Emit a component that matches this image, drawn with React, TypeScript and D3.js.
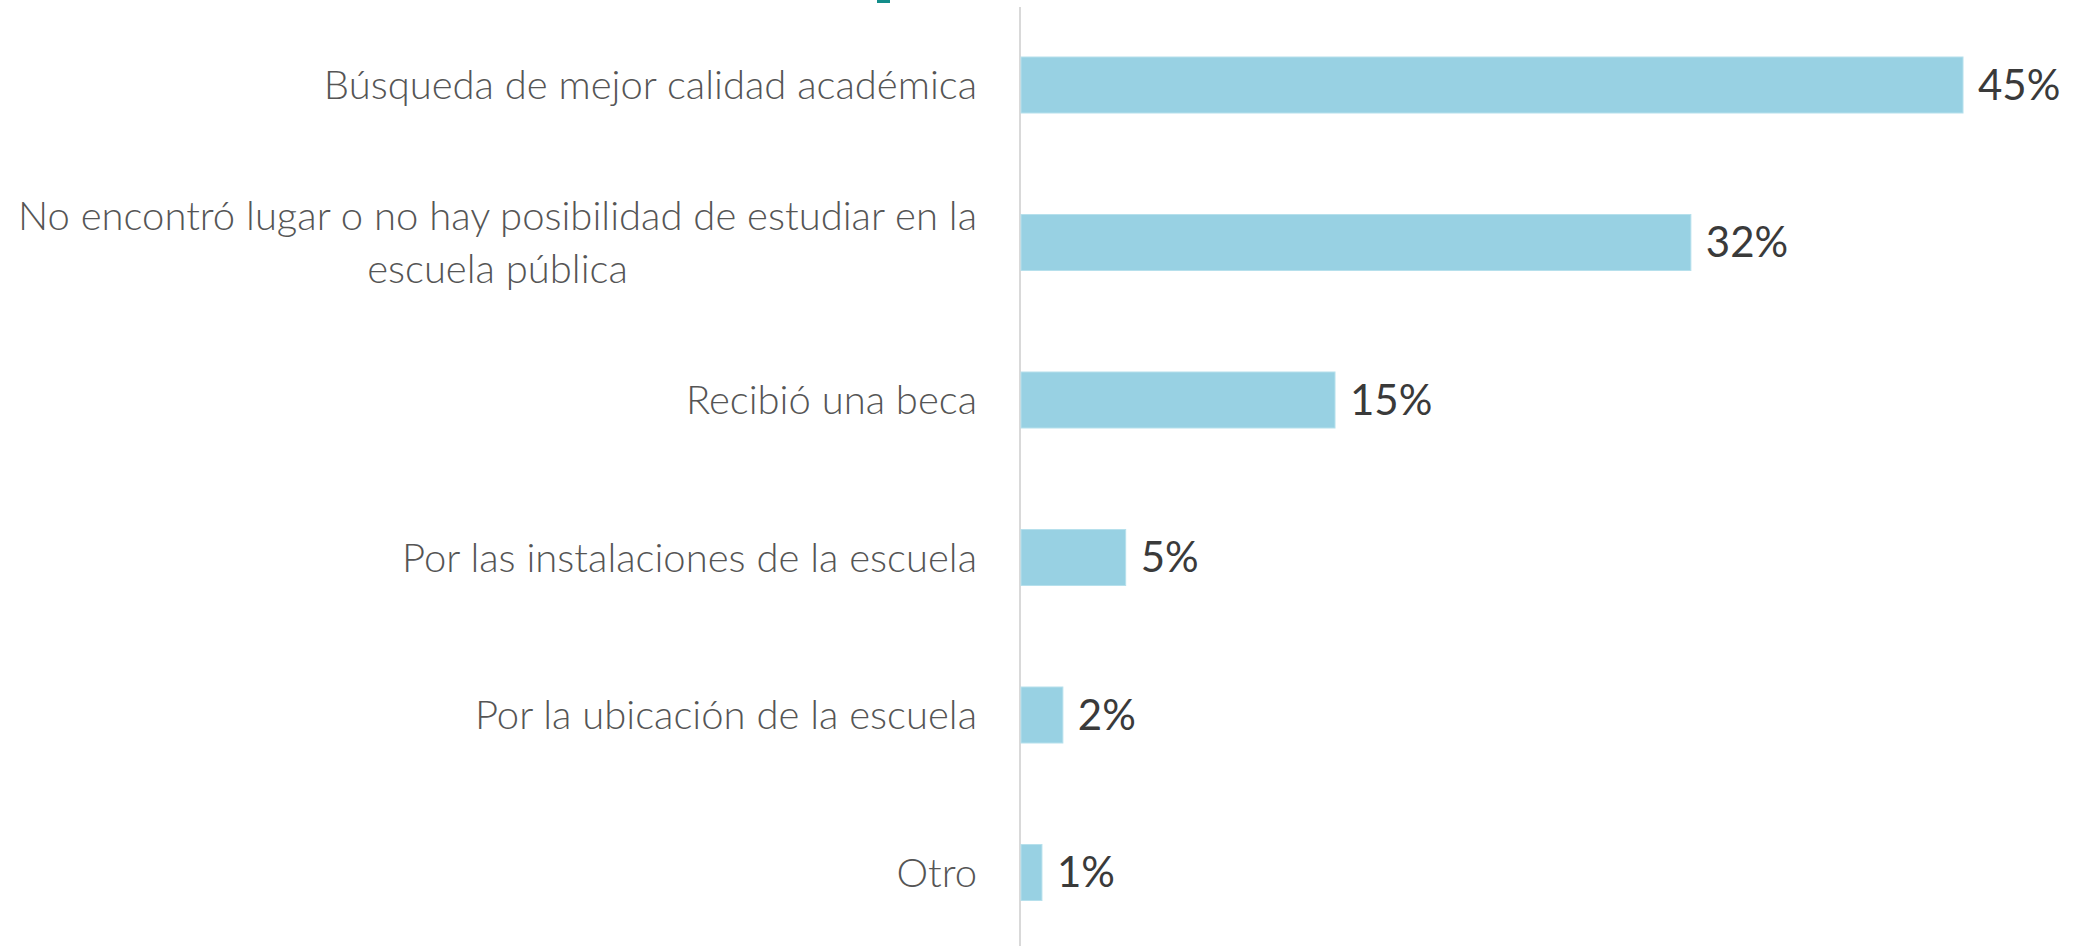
import React, { useEffect, useRef } from "react";
import * as d3 from "d3";

const categories = [
  "Búsqueda de mejor calidad académica",
  "No encontró lugar o no hay posibilidad de estudiar en la\nescuela pública",
  "Recibió una beca",
  "Por las instalaciones de la escuela",
  "Por la ubicación de la escuela",
  "Otro",
];
const values = [0.45, 0.32, 0.15, 0.05, 0.02, 0.01];
const valueLabels = ["45%", "32%", "15%", "5%", "2%", "1%"];

const W = 2084;
const H = 946;

export default function App() {
  const ref = useRef<SVGSVGElement | null>(null);

  useEffect(() => {
    const svg = d3.select(ref.current);
    svg.selectAll("*").remove();

    const x = d3.scaleLinear().domain([0, 0.45]).range([1021, 1963]);
    const y = d3.scaleBand<string>().domain(categories).range([6.25, 951.25]).padding(0);
    const barH = 56;
    const labelX = 977;
    const fontFam = "Lato, 'Open Sans', sans-serif";

    // top teal mark (cut-off title element)
    svg.append("rect").attr("x", 877).attr("y", 0).attr("width", 13).attr("height", 3).attr("fill", "#138d8a");

    // axis line
    svg.append("line")
      .attr("x1", x(0) - 1).attr("x2", x(0) - 1)
      .attr("y1", 7).attr("y2", H)
      .attr("stroke", "#d9d9d9").attr("stroke-width", 2);

    const g = svg.append("g");
    categories.forEach((c, i) => {
      const cy = (y(c) as number) + y.bandwidth() / 2;
      g.append("rect")
        .attr("x", x(0))
        .attr("y", cy - barH / 2)
        .attr("width", x(values[i]) - x(0))
        .attr("height", barH)
        .attr("fill", "#98d1e3")
        .attr("stroke", "#b6e0ec")
        .attr("stroke-width", 1);

      g.append("text")
        .attr("x", x(values[i]) + 15)
        .attr("y", cy)
        .attr("dy", "0.35em")
        .attr("font-family", fontFam)
        .attr("font-size", 42)
        .attr("font-weight", 400)
        .attr("fill", "#3a3a3a")
        .text(valueLabels[i]);

      const lines = c.split("\n");
      const lh = 53;
      const t = g.append("text")
        .attr("font-family", fontFam)
        .attr("font-size", 40)
        .attr("font-weight", 300)
        .attr("fill", "#555555");
      const spans = lines.map((ln, j) =>
        t.append("tspan")
          .attr("y", cy + (j - (lines.length - 1) / 2) * lh)
          .attr("dy", "0.35em")
          .text(ln)
      );
      const widths = spans.map((s) => (s.node() as SVGTSpanElement).getComputedTextLength());
      const maxW = Math.max(...widths);
      const mid = labelX - maxW / 2;
      spans.forEach((s) => s.attr("x", mid).attr("text-anchor", "middle"));
    });
  }, []);

  return (
    <svg
      ref={ref}
      width={W}
      height={H}
      style={{ position: "absolute", left: 0, top: 0, background: "#fff" }}
    />
  );
}
